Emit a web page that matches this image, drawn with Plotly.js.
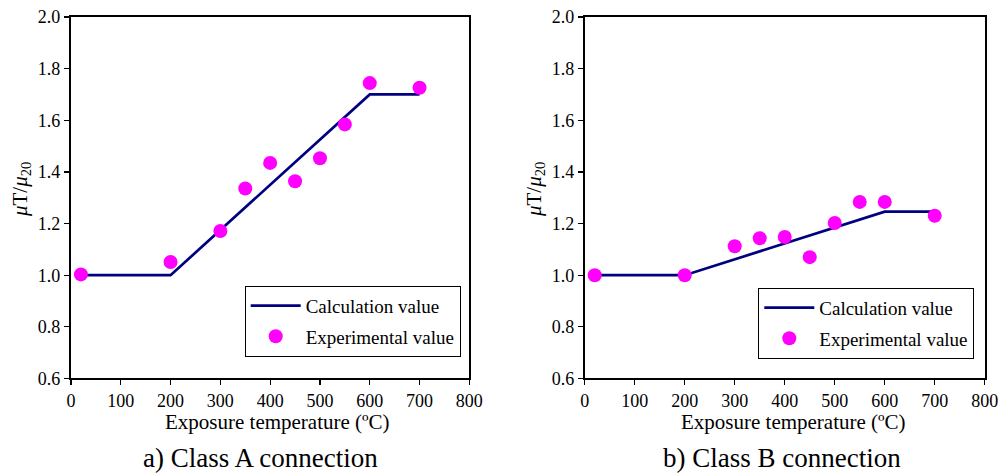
<!DOCTYPE html>
<html>
<head>
<meta charset="utf-8">
<script src="https://cdn.plot.ly/plotly-3.0.1.min.js"></script>
<style>html,body{margin:0;padding:0;background:#fff;}#chart{width:998px;height:475px;}</style>
</head>
<body>
<div id="chart"></div>
<script>
// Class A connection
const calcA_x = [20, 200, 600, 700];
const calcA_y = [1.0, 1.0, 1.7, 1.7];
const expA_x = [20, 200, 300, 350, 400, 450, 500, 550, 600, 700];
const expA_y = [1.003, 1.051, 1.171, 1.336, 1.435, 1.364, 1.453, 1.584, 1.744, 1.726];
// Class B connection
const calcB_x = [20, 200, 600, 700];
const calcB_y = [1.0, 1.0, 1.246, 1.246];
const expB_x = [20, 200, 300, 350, 400, 450, 500, 550, 600, 700];
const expB_y = [1.0, 1.0, 1.112, 1.143, 1.148, 1.07, 1.202, 1.284, 1.284, 1.23];

const xTicks = [0, 100, 200, 300, 400, 500, 600, 700, 800];
const yTicks = [0.6, 0.8, 1.0, 1.2, 1.4, 1.6, 1.8, 2.0];

const FONT = "'Liberation Serif', 'DejaVu Serif', serif";
const lineColor = "#000080";
const dotColor = "#FF00FF";

const traces = [
  {x: calcA_x, y: calcA_y, mode: "lines", name: "Calculation value", legendgroup: "a1", line: {color: lineColor, width: 2.7}, xaxis: "x", yaxis: "y", legend: "legend"},
  {x: expA_x, y: expA_y, mode: "markers", name: "Experimental value", legendgroup: "a2", marker: {color: dotColor, size: 14}, xaxis: "x", yaxis: "y", legend: "legend"},
  {x: calcB_x, y: calcB_y, mode: "lines", name: "Calculation value", legendgroup: "b1", line: {color: lineColor, width: 2.7}, xaxis: "x2", yaxis: "y2", legend: "legend2"},
  {x: expB_x, y: expB_y, mode: "markers", name: "Experimental value", legendgroup: "b2", marker: {color: dotColor, size: 14}, xaxis: "x2", yaxis: "y2", legend: "legend2"}
];

function xax(domain, anchor) {
  return {
    domain: domain, anchor: anchor, range: [0, 800], tickvals: xTicks, ticktext: xTicks.map(String),
    showgrid: false, zeroline: false, showline: true, mirror: true, linecolor: "#000", linewidth: 2,
    ticks: "outside", ticklen: 5, tickwidth: 1.3, tickcolor: "#000",
    tickfont: {family: FONT, size: 18, color: "#000"}, ticklabeloverflow: "allow",
    automargin: false, fixedrange: true
  };
}
function yax(domain, anchor) {
  return {
    domain: domain, anchor: anchor, range: [0.6, 2.0], tickvals: yTicks, ticktext: yTicks.map(v => v.toFixed(1)),
    showgrid: false, zeroline: false, showline: true, mirror: true, linecolor: "#000", linewidth: 2,
    ticks: "outside", ticklen: 5, tickwidth: 1.3, tickcolor: "#000",
    tickfont: {family: FONT, size: 18, color: "#000"}, ticklabeloverflow: "allow",
    automargin: false, fixedrange: true
  };
}

const yDom = [0.2032, 0.9642];
const legendBase = {
  xref: "paper", yref: "paper", xanchor: "right", yanchor: "bottom",
  bgcolor: "#fff", bordercolor: "#000", borderwidth: 1,
  font: {family: FONT, size: 19, color: "#000"}, traceorder: "grouped", tracegroupgap: 3, itemwidth: 50
};

function ann(text, x, y, size, angle) {
  return {text: text, xref: "paper", yref: "paper", x: x / 998, y: 1 - y / 475, xanchor: "center", yanchor: "middle",
          showarrow: false, textangle: angle || 0, font: {family: FONT, size: size, color: "#000"}};
}

const layout = {
  width: 998, height: 475,
  margin: {l: 0, r: 0, t: 0, b: 0},
  paper_bgcolor: "#fff", plot_bgcolor: "#fff",
  font: {family: FONT, color: "#000"},
  showlegend: true,
  xaxis: xax([0.0711, 0.4703], "y"),
  yaxis: yax(yDom, "x"),
  xaxis2: xax([0.5859, 0.9867], "y2"),
  yaxis2: yax(yDom, "x2"),
  legend: Object.assign({}, legendBase, {x: 460.7 / 998, y: 1 - 356.7 / 475}),
  legend2: Object.assign({}, legendBase, {x: 974.3 / 998, y: 1 - 358.7 / 475}),
  annotations: [
    ann("Exposure temperature (ºC)", 277.5, 422, 21),
    ann("Exposure temperature (ºC)", 793, 422, 21),
    ann("<i>μ</i>T/<i>μ</i><sub>20</sub>", 21, 190, 21, -90),
    ann("<i>μ</i>T/<i>μ</i><sub>20</sub>", 535, 190, 21, -90),
    ann("a) Class A connection", 260, 458, 27),
    ann("b) Class B connection", 782, 458, 27)
  ]
};

Plotly.newPlot("chart", traces, layout, {staticPlot: true, displayModeBar: false});
</script>
</body>
</html>
